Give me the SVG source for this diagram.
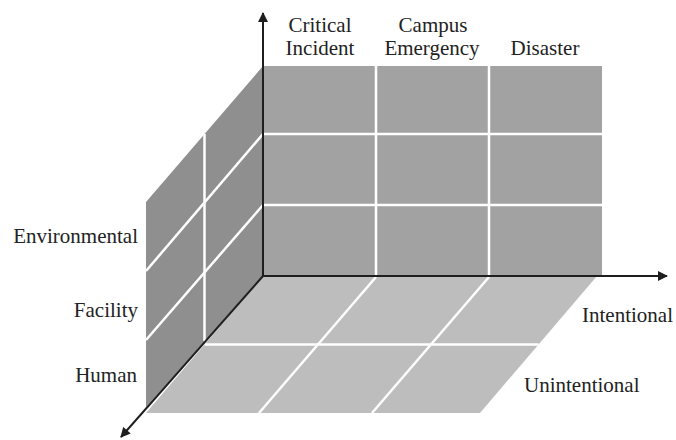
<svg xmlns="http://www.w3.org/2000/svg" width="676" height="440" viewBox="0 0 676 440">
  <style>
    .lbl { font-family: "Liberation Serif", "Times New Roman", serif; font-size: 21px; fill: #222; }
    .grid { stroke: #ffffff; stroke-width: 2.5; fill: none; }
    .axis { stroke: #1e1e1e; stroke-width: 2; fill: none; }
  </style>
  <defs>
    <marker id="arr" viewBox="0 0 10 10" refX="9" refY="5" markerWidth="6" markerHeight="6" markerUnits="userSpaceOnUse" orient="auto">
      <path d="M0,0 L10,5 L0,10 z" fill="#1e1e1e"/>
    </marker>
    <marker id="arrB" viewBox="0 0 10 10" refX="9" refY="5" markerWidth="12" markerHeight="10" markerUnits="userSpaceOnUse" orient="auto">
      <path d="M0,0 L10,5 L0,10 z" fill="#1e1e1e"/>
    </marker>
  </defs>

  <g id="floor">
    <polygon points="263,276 597,276 480,413 146,413" fill="#bdbdbd"/>
    <line class="grid" x1="204.5" y1="344.5" x2="538.5" y2="344.5"/>
    <line class="grid" x1="376" y1="277" x2="259" y2="413"/>
    <line class="grid" x1="489" y1="277" x2="372" y2="413"/>
  </g>

  <g id="left-wall">
    <polygon points="263,66 263,276 146,407 146,202" fill="#8f8f8f"/>
    <line class="grid" x1="204.5" y1="134" x2="204.5" y2="341"/>
    <line class="grid" x1="263" y1="134" x2="146" y2="271"/>
    <line class="grid" x1="263" y1="205" x2="146" y2="340"/>
  </g>

  <g id="back-wall">
    <rect x="263" y="66" width="339" height="210" fill="#a2a2a2"/>
    <line class="grid" x1="376" y1="66" x2="376" y2="276"/>
    <line class="grid" x1="489" y1="66" x2="489" y2="276"/>
    <line class="grid" x1="263" y1="134" x2="602" y2="134"/>
    <line class="grid" x1="263" y1="205" x2="602" y2="205"/>
  </g>

  <g id="connectors">
    <line class="axis" x1="263" y1="276" x2="263" y2="13" marker-end="url(#arrB)"/>
    <line class="axis" x1="263" y1="276" x2="667" y2="276" marker-end="url(#arrB)"/>
    <line class="axis" x1="263" y1="276" x2="121" y2="437" marker-end="url(#arrB)"/>
  </g>

  <g id="labels">
    <text class="lbl" x="320" y="32" text-anchor="middle">Critical</text>
    <text class="lbl" x="320" y="55" text-anchor="middle">Incident</text>
    <text class="lbl" x="433" y="32" text-anchor="middle">Campus</text>
    <text class="lbl" x="432" y="55" text-anchor="middle">Emergency</text>
    <text class="lbl" x="545" y="55" text-anchor="middle">Disaster</text>
    <text class="lbl" x="138" y="243" text-anchor="end">Environmental</text>
    <text class="lbl" x="138" y="317" text-anchor="end">Facility</text>
    <text class="lbl" x="137" y="382" text-anchor="end">Human</text>
    <text class="lbl" x="582" y="322">Intentional</text>
    <text class="lbl" x="524" y="392">Unintentional</text>
  </g>
</svg>
